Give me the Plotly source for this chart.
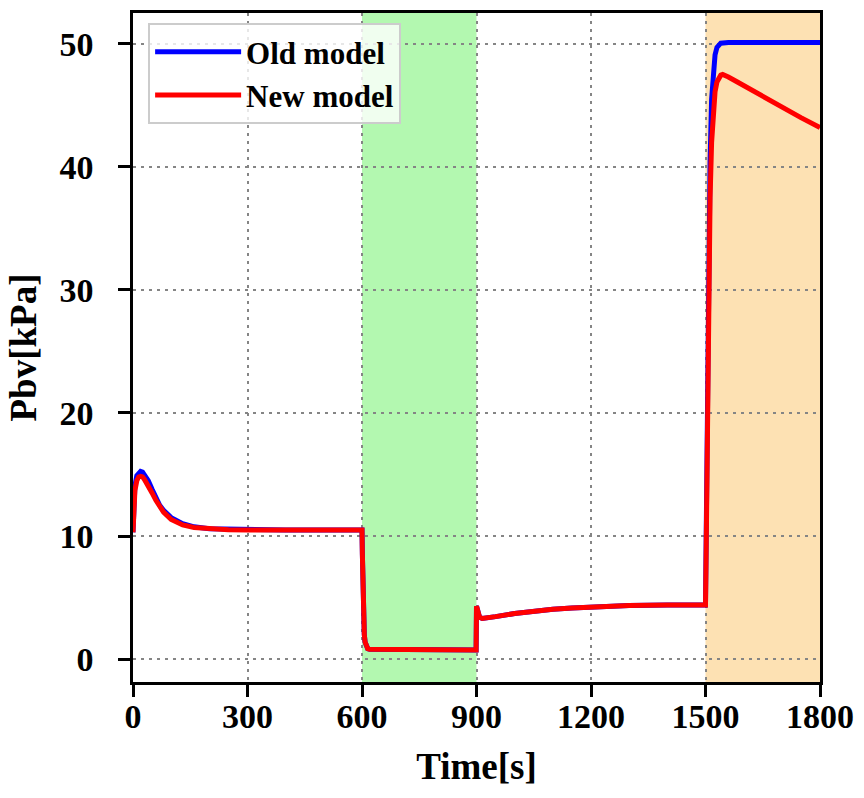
import plotly.graph_objects as go

# ---- data ----
time_old = [0, 2, 5, 10, 15, 20, 25, 30, 40, 50, 60, 70, 80, 100, 130, 160, 200, 250, 300, 400, 500, 600,
            601, 602, 604, 606, 608, 611, 615, 620, 700, 800, 899,
            900, 903, 908, 915, 930, 950, 1000, 1050, 1100, 1150, 1200, 1250, 1300, 1400, 1499,
            1500, 1502, 1505, 1508, 1512, 1516, 1520, 1525, 1530, 1535, 1540, 1560, 1600, 1700, 1800]
pbv_old = [10.3, 12.6, 14.1, 14.9, 15.15, 15.25, 15.2, 15.0, 14.5, 13.8, 13.1, 12.5, 12.1, 11.5, 11.0, 10.75, 10.6, 10.55, 10.5, 10.5, 10.5, 10.5,
           8.5, 6.0, 3.2, 2.0, 1.4, 1.0, 0.85, 0.8, 0.78, 0.76, 0.75,
           4.3, 3.9, 3.4, 3.3, 3.35, 3.45, 3.7, 3.9, 4.05, 4.15, 4.25, 4.3, 4.35, 4.4, 4.4,
           4.4, 10.5, 22.5, 32.5, 40.5, 45.5, 47.8, 49.1, 49.7, 49.95, 50.05, 50.1, 50.1, 50.1, 50.1]

time_new = [0, 2, 5, 10, 15, 20, 25, 30, 40, 50, 60, 70, 80, 100, 130, 160, 200, 250, 300, 400, 500, 600,
            601, 602, 604, 606, 608, 611, 615, 620, 700, 800, 899,
            900, 903, 908, 915, 930, 950, 1000, 1050, 1100, 1150, 1200, 1250, 1300, 1400, 1499,
            1500, 1502, 1505, 1508, 1512, 1516, 1520, 1525, 1530, 1535, 1540, 1545, 1550, 1560, 1580, 1600, 1650, 1700, 1750, 1800]
pbv_new = [10.3, 12.3, 13.7, 14.5, 14.8, 14.85, 14.8, 14.6, 14.1, 13.5, 12.9, 12.4, 11.95, 11.35, 10.9, 10.7, 10.58, 10.52, 10.5, 10.5, 10.5, 10.5,
           8.5, 6.0, 3.2, 2.0, 1.4, 1.0, 0.85, 0.8, 0.78, 0.76, 0.75,
           4.3, 3.9, 3.4, 3.3, 3.35, 3.45, 3.7, 3.9, 4.05, 4.15, 4.25, 4.3, 4.35, 4.4, 4.4,
           4.4, 9.5, 21.0, 30.0, 37.5, 42.0, 44.6, 46.1, 46.9, 47.25, 47.45, 47.5, 47.45, 47.3, 46.95, 46.6, 45.7, 44.8, 44.0, 43.2]

x_ticks = [0, 300, 600, 900, 1200, 1500, 1800]
y_ticks = [0, 10, 20, 30, 40, 50]
green_span = [600, 900]
orange_span = [1500, 1800]

FONT = "Liberation Serif"

fig = go.Figure()
fig.add_trace(go.Scatter(x=time_old, y=pbv_old, mode="lines", name="<b>Old model</b>",
                         line=dict(color="#0000ff", width=5)))
fig.add_trace(go.Scatter(x=time_new, y=pbv_new, mode="lines", name="<b>New model</b>",
                         line=dict(color="#ff0000", width=5)))

fig.add_vrect(x0=green_span[0], x1=green_span[1], fillcolor="#b3f8b0", line_width=0, layer="below")
fig.add_vrect(x0=orange_span[0], x1=orange_span[1], fillcolor="#fde1b3", line_width=0, layer="below")

axis_common = dict(
    showline=True, linecolor="black", linewidth=2.5, mirror=True,
    ticks="outside", ticklen=12, tickwidth=2.5, tickcolor="black",
    showgrid=True, gridcolor="#858585", griddash="3px,5px", gridwidth=2,
    zeroline=False,
    tickfont=dict(family=FONT, size=34, color="black"),
)

fig.update_xaxes(range=[0, 1800], tickvals=x_ticks, ticktext=[f"<b>{v}</b>" for v in x_ticks],
                 title=dict(text="<b>Time[s]</b>", font=dict(family=FONT, size=37, color="black"), standoff=20),
                 ticklabelstandoff=-10,
                 **axis_common)
fig.update_yaxes(range=[-1.86, 52.5], tickvals=y_ticks, ticktext=[f"<b>{v}</b>" for v in y_ticks],
                 title=dict(text="<b>Pbv[kPa]</b>", font=dict(family=FONT, size=37, color="black"), standoff=12),
                 ticklabelstandoff=18,
                 **axis_common)

fig.update_layout(
    width=864, height=798,
    margin=dict(l=133, r=44, t=10, b=116),
    plot_bgcolor="white", paper_bgcolor="white",
    font=dict(family=FONT, color="black"),
    legend=dict(x=0.022, y=0.985, xanchor="left", yanchor="top",
                bgcolor="rgba(255,255,255,0.8)", bordercolor="#cccccc", borderwidth=2,
                font=dict(family=FONT, size=31, color="black"),
                itemwidth=86),
    showlegend=True,
)

fig.write_html("out.html")
